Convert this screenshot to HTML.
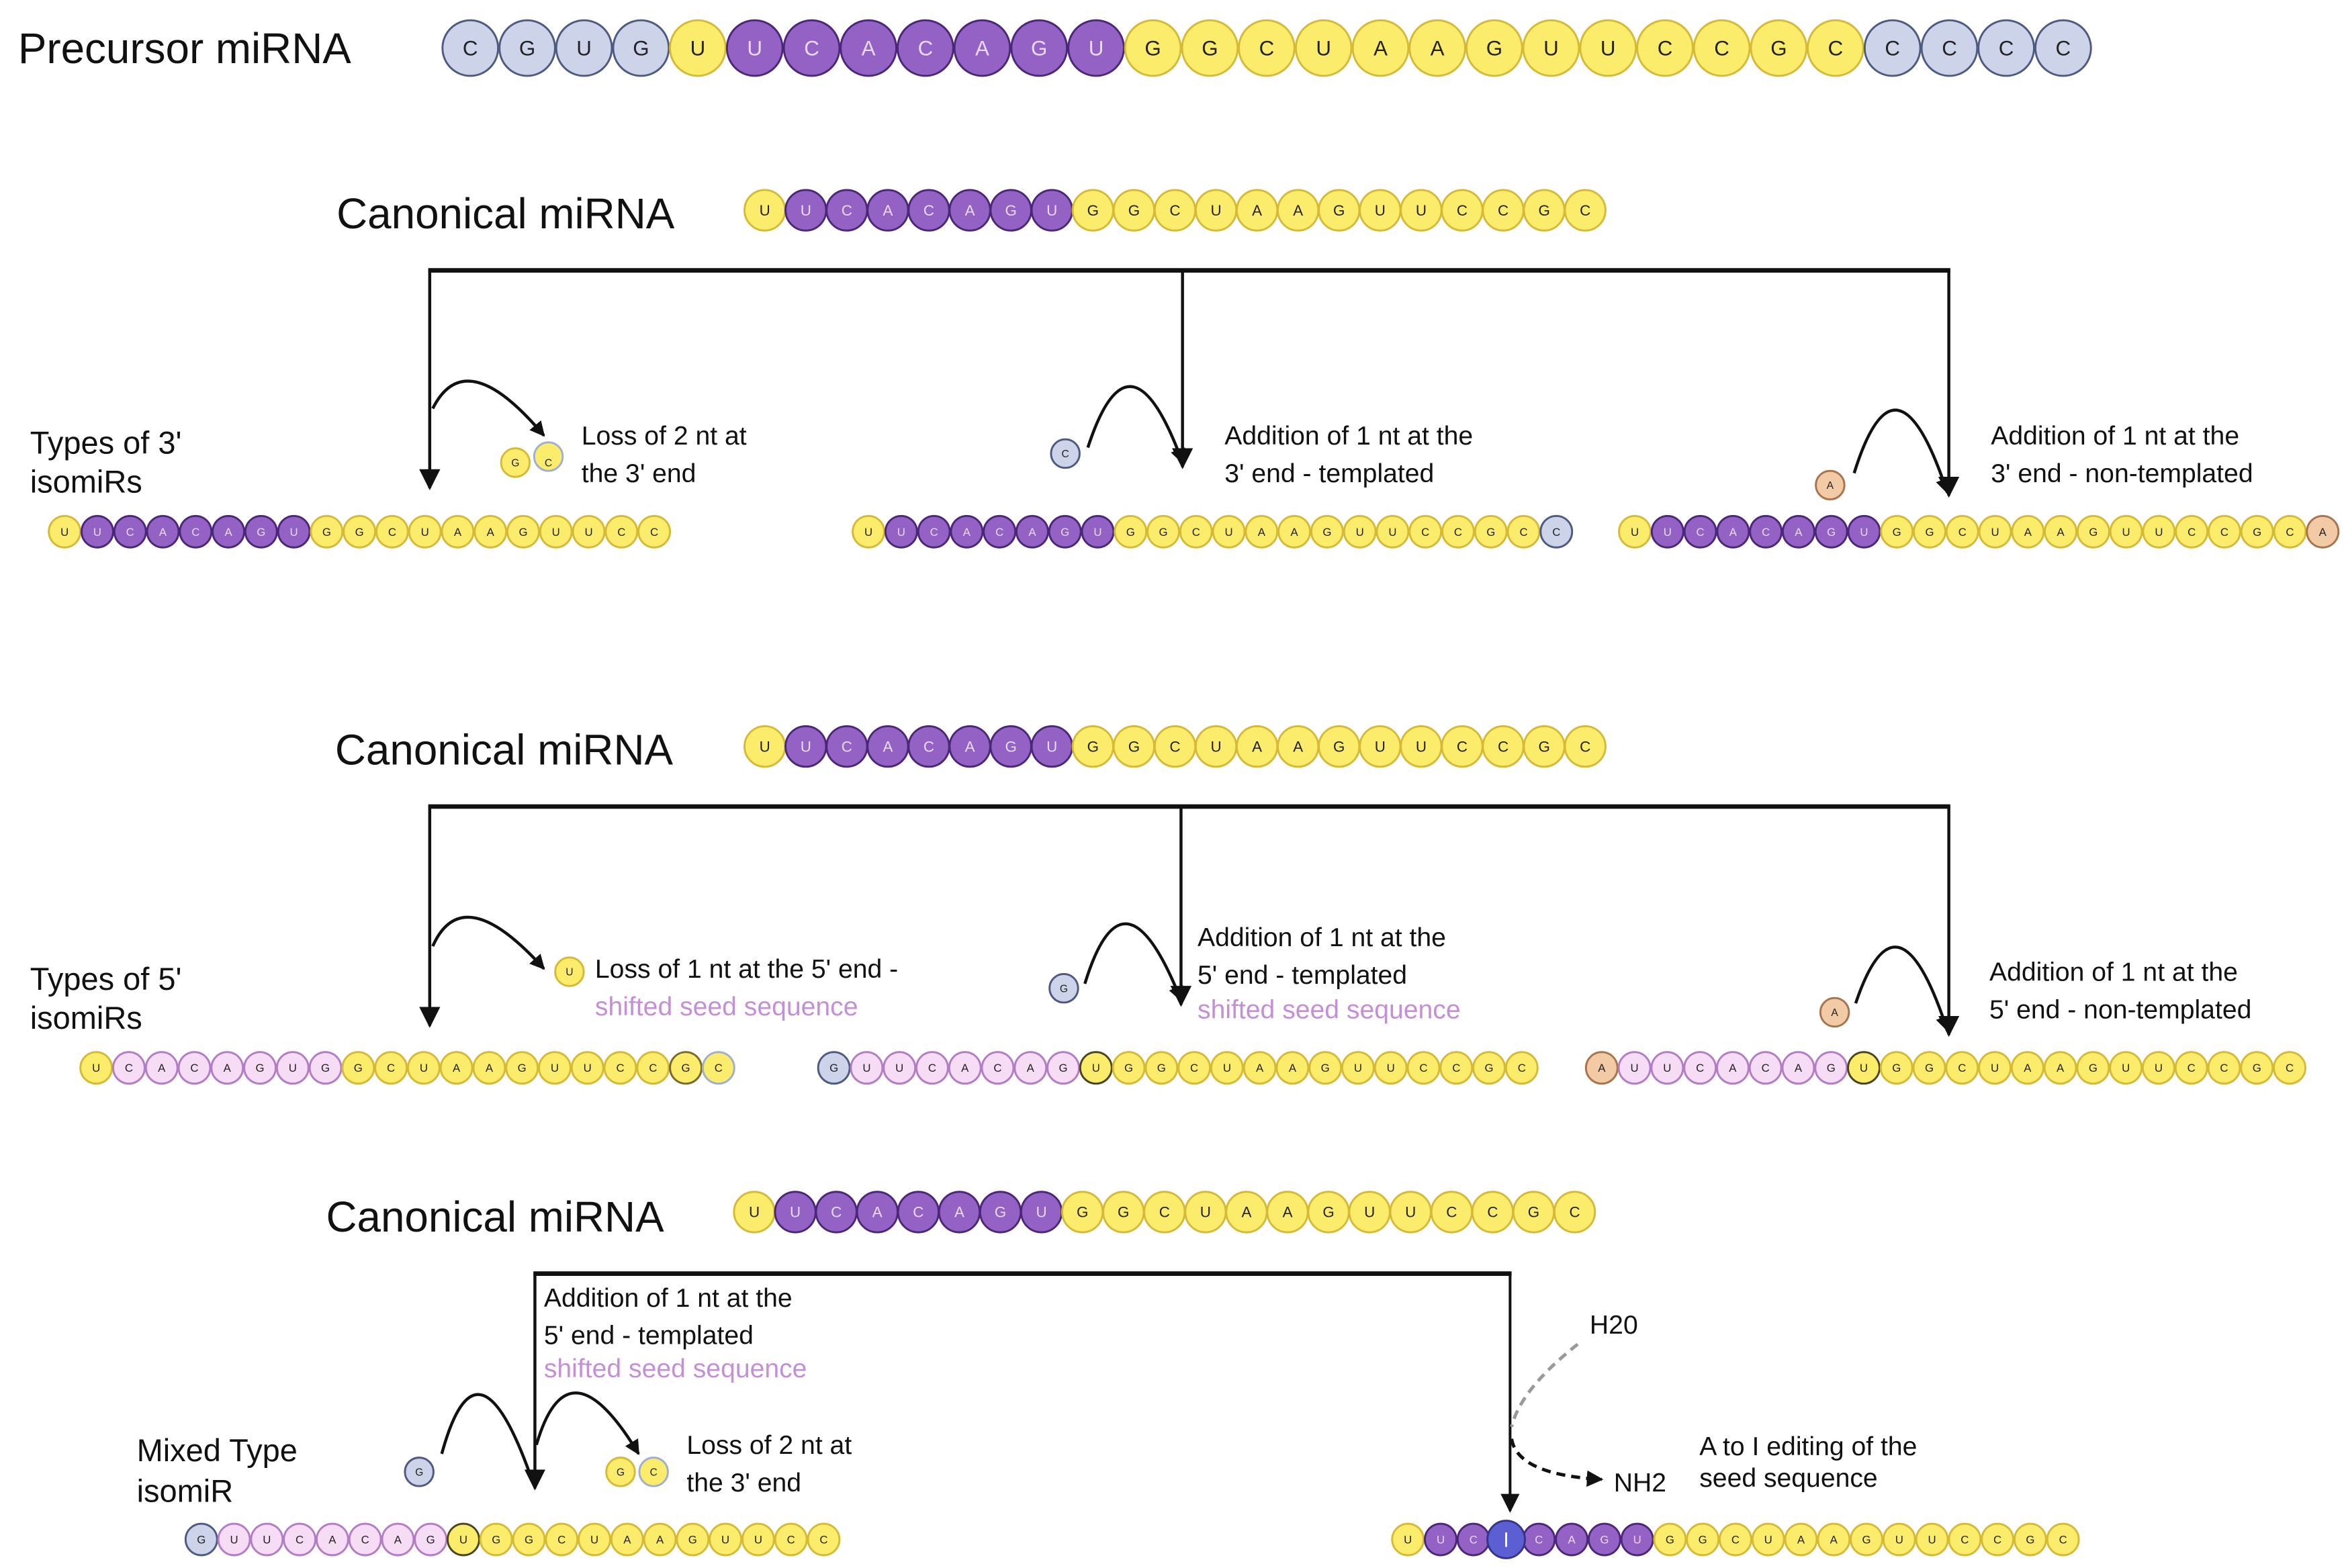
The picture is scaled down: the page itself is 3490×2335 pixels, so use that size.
<!DOCTYPE html>
<html><head><meta charset="utf-8"><style>
html,body{margin:0;padding:0;background:#fff}
svg{display:block}
.y{fill:#fbec6c;stroke:#d6b935;stroke-width:1.3}
.p{fill:#9461c5;stroke:#4b2778;stroke-width:1.3}
.g{fill:#cdd4e9;stroke:#4d5a82;stroke-width:1.3}
.k{fill:#f6dcf5;stroke:#b27cc6;stroke-width:1.3}
.t{fill:#f2caa6;stroke:#a8744e;stroke-width:1.3}
.o{fill:#fbec6c;stroke:#4a4420;stroke-width:1.3}
.i{fill:#5c5fd2;stroke:#33358a;stroke-width:1.3}
text{font-family:"Liberation Sans",Arial,sans-serif}
.L{fill:#222;text-anchor:middle}
.W{fill:#e8dcf5;text-anchor:middle}
.lab{fill:#111;font-size:17.5px}
.pink{fill:#c58fd8;font-size:17.5px}
.ttl{fill:#111;font-size:28.5px}
.sub{fill:#111;font-size:21px}
.ln{stroke:#111;fill:none}
</style></head><body>
<svg width="3490" height="2335" viewBox="0 0 1560 1044" preserveAspectRatio="none" xmlns="http://www.w3.org/2000/svg">
<defs>
<marker id="a" viewBox="0 0 10 10" refX="9" refY="5" markerWidth="5" markerHeight="5" orient="auto" markerUnits="strokeWidth"><path d="M0,0L10,5L0,10z" fill="#111"/></marker>
<marker id="b" viewBox="0 0 10 10" refX="9" refY="5" markerWidth="7" markerHeight="7" orient="auto" markerUnits="strokeWidth"><path d="M0,0L10,5L0,10z" fill="#111"/></marker>
</defs>

<!-- Precursor -->
<text class="ttl" x="12" y="42">Precursor miRNA</text>
<g>
<circle class="g" cx="313" cy="32" r="18.5"/><circle class="g" cx="350.9" cy="32" r="18.5"/><circle class="g" cx="388.7" cy="32" r="18.5"/><circle class="g" cx="426.6" cy="32" r="18.5"/>
<circle class="y" cx="464.4" cy="32" r="18.5"/>
<circle class="p" cx="502.3" cy="32" r="18.5"/><circle class="p" cx="540.2" cy="32" r="18.5"/><circle class="p" cx="578" cy="32" r="18.5"/><circle class="p" cx="615.9" cy="32" r="18.5"/><circle class="p" cx="653.7" cy="32" r="18.5"/><circle class="p" cx="691.6" cy="32" r="18.5"/><circle class="p" cx="729.5" cy="32" r="18.5"/>
<circle class="y" cx="767.3" cy="32" r="18.5"/><circle class="y" cx="805.2" cy="32" r="18.5"/><circle class="y" cx="843" cy="32" r="18.5"/><circle class="y" cx="880.9" cy="32" r="18.5"/><circle class="y" cx="918.8" cy="32" r="18.5"/><circle class="y" cx="956.6" cy="32" r="18.5"/><circle class="y" cx="994.5" cy="32" r="18.5"/><circle class="y" cx="1032.3" cy="32" r="18.5"/><circle class="y" cx="1070.2" cy="32" r="18.5"/><circle class="y" cx="1108.1" cy="32" r="18.5"/><circle class="y" cx="1145.9" cy="32" r="18.5"/><circle class="y" cx="1183.8" cy="32" r="18.5"/><circle class="y" cx="1221.6" cy="32" r="18.5"/>
<circle class="g" cx="1259.5" cy="32" r="18.5"/><circle class="g" cx="1297.4" cy="32" r="18.5"/><circle class="g" cx="1335.2" cy="32" r="18.5"/><circle class="g" cx="1373.1" cy="32" r="18.5"/>
</g>
<text class="L" font-size="14" y="37" x="313 350.9 388.7 426.6 464.4">CGUGU</text>
<text class="W" font-size="14" y="37" x="502.3 540.2 578 615.9 653.7 691.6 729.5">UCACAGU</text>
<text class="L" font-size="14" y="37" x="767.3 805.2 843 880.9 918.8 956.6 994.5 1032.3 1070.2 1108.1 1145.9 1183.8 1221.6 1259.5 1297.4 1335.2 1373.1">GGCUAAGUUCCGCCCCC</text>

<!-- Canonical 1 -->
<text class="ttl" x="224" y="152">Canonical miRNA</text>
<g>
<circle class="y" cx="509" cy="140" r="13.5"/>
<circle class="p" cx="536.3" cy="140" r="13.5"/><circle class="p" cx="563.6" cy="140" r="13.5"/><circle class="p" cx="590.9" cy="140" r="13.5"/><circle class="p" cx="618.2" cy="140" r="13.5"/><circle class="p" cx="645.5" cy="140" r="13.5"/><circle class="p" cx="672.8" cy="140" r="13.5"/><circle class="p" cx="700.1" cy="140" r="13.5"/>
<circle class="y" cx="727.4" cy="140" r="13.5"/><circle class="y" cx="754.7" cy="140" r="13.5"/><circle class="y" cx="782" cy="140" r="13.5"/><circle class="y" cx="809.3" cy="140" r="13.5"/><circle class="y" cx="836.6" cy="140" r="13.5"/><circle class="y" cx="863.9" cy="140" r="13.5"/><circle class="y" cx="891.2" cy="140" r="13.5"/><circle class="y" cx="918.5" cy="140" r="13.5"/><circle class="y" cx="945.8" cy="140" r="13.5"/><circle class="y" cx="973.1" cy="140" r="13.5"/><circle class="y" cx="1000.4" cy="140" r="13.5"/><circle class="y" cx="1027.7" cy="140" r="13.5"/><circle class="y" cx="1055" cy="140" r="13.5"/>
</g>
<text class="L" font-size="10" y="143.5" x="509">U</text>
<text class="W" font-size="10" y="143.5" x="536.3 563.6 590.9 618.2 645.5 672.8 700.1">UCACAGU</text>
<text class="L" font-size="10" y="143.5" x="727.4 754.7 782 809.3 836.6 863.9 891.2 918.5 945.8 973.1 1000.4 1027.7 1055">GGCUAAGUUCCGC</text>

<!-- Bracket 1 -->
<line class="ln" x1="285" y1="180" x2="1298" y2="180" stroke-width="3"/>
<line class="ln" x1="286" y1="180" x2="286" y2="325" stroke-width="2" marker-end="url(#b)"/>
<line class="ln" x1="787" y1="180" x2="787" y2="311" stroke-width="2" marker-end="url(#b)"/>
<line class="ln" x1="1297" y1="180" x2="1297" y2="330" stroke-width="2" marker-end="url(#b)"/>

<text class="sub" x="20" y="302">Types of 3'</text>
<text class="sub" x="20" y="328">isomiRs</text>

<path class="ln" d="M288,272 Q310,228 362,290" stroke-width="2" marker-end="url(#a)"/>
<circle class="y" cx="343" cy="308" r="9.5"/><circle class="y" cx="365" cy="304" r="9.5" style="stroke:#9fb0cf"/>
<text class="L" font-size="7" y="310.5" x="343 365">GC</text>
<text class="lab" x="387" y="296">Loss of 2 nt at</text>
<text class="lab" x="387" y="321">the 3' end</text>

<path class="ln" d="M724,298 Q752,212 787,308" stroke-width="2" marker-end="url(#a)"/>
<circle class="g" cx="709" cy="302" r="9.5"/>
<text class="L" font-size="7" y="304.5" x="709">C</text>
<text class="lab" x="815" y="296">Addition of 1 nt at the</text>
<text class="lab" x="815" y="321">3' end - templated</text>

<path class="ln" d="M1234,315 Q1262,225 1296,328" stroke-width="2" marker-end="url(#a)"/>
<circle class="t" cx="1218" cy="323" r="9.5"/>
<text class="L" font-size="7" y="325.5" x="1218">A</text>
<text class="lab" x="1325" y="296">Addition of 1 nt at the</text>
<text class="lab" x="1325" y="321">3' end - non-templated</text>

<!-- 3' rows -->
<g>
<circle class="y" cx="43" cy="354" r="10.5"/>
<circle class="p" cx="64.8" cy="354" r="10.5"/><circle class="p" cx="86.6" cy="354" r="10.5"/><circle class="p" cx="108.4" cy="354" r="10.5"/><circle class="p" cx="130.2" cy="354" r="10.5"/><circle class="p" cx="152" cy="354" r="10.5"/><circle class="p" cx="173.8" cy="354" r="10.5"/><circle class="p" cx="195.6" cy="354" r="10.5"/>
<circle class="y" cx="217.4" cy="354" r="10.5"/><circle class="y" cx="239.2" cy="354" r="10.5"/><circle class="y" cx="261" cy="354" r="10.5"/><circle class="y" cx="282.8" cy="354" r="10.5"/><circle class="y" cx="304.6" cy="354" r="10.5"/><circle class="y" cx="326.4" cy="354" r="10.5"/><circle class="y" cx="348.2" cy="354" r="10.5"/><circle class="y" cx="370" cy="354" r="10.5"/><circle class="y" cx="391.8" cy="354" r="10.5"/><circle class="y" cx="413.6" cy="354" r="10.5"/><circle class="y" cx="435.4" cy="354" r="10.5"/>
</g>
<text class="L" font-size="7.5" y="356.7" x="43">U</text>
<text class="W" font-size="7.5" y="356.7" x="64.8 86.6 108.4 130.2 152 173.8 195.6">UCACAGU</text>
<text class="L" font-size="7.5" y="356.7" x="217.4 239.2 261 282.8 304.6 326.4 348.2 370 391.8 413.6 435.4">GGCUAAGUUCC</text>

<g>
<circle class="y" cx="578" cy="354" r="10.5"/>
<circle class="p" cx="599.8" cy="354" r="10.5"/><circle class="p" cx="621.6" cy="354" r="10.5"/><circle class="p" cx="643.4" cy="354" r="10.5"/><circle class="p" cx="665.2" cy="354" r="10.5"/><circle class="p" cx="687" cy="354" r="10.5"/><circle class="p" cx="708.8" cy="354" r="10.5"/><circle class="p" cx="730.6" cy="354" r="10.5"/>
<circle class="y" cx="752.4" cy="354" r="10.5"/><circle class="y" cx="774.2" cy="354" r="10.5"/><circle class="y" cx="796" cy="354" r="10.5"/><circle class="y" cx="817.8" cy="354" r="10.5"/><circle class="y" cx="839.6" cy="354" r="10.5"/><circle class="y" cx="861.4" cy="354" r="10.5"/><circle class="y" cx="883.2" cy="354" r="10.5"/><circle class="y" cx="905" cy="354" r="10.5"/><circle class="y" cx="926.8" cy="354" r="10.5"/><circle class="y" cx="948.6" cy="354" r="10.5"/><circle class="y" cx="970.4" cy="354" r="10.5"/><circle class="y" cx="992.2" cy="354" r="10.5"/><circle class="y" cx="1014" cy="354" r="10.5"/>
<circle class="g" cx="1035.8" cy="354" r="10.5"/>
</g>
<text class="L" font-size="7.5" y="356.7" x="578">U</text>
<text class="W" font-size="7.5" y="356.7" x="599.8 621.6 643.4 665.2 687 708.8 730.6">UCACAGU</text>
<text class="L" font-size="7.5" y="356.7" x="752.4 774.2 796 817.8 839.6 861.4 883.2 905 926.8 948.6 970.4 992.2 1014 1035.8">GGCUAAGUUCCGCC</text>

<g>
<circle class="y" cx="1088" cy="354" r="10.5"/>
<circle class="p" cx="1109.8" cy="354" r="10.5"/><circle class="p" cx="1131.6" cy="354" r="10.5"/><circle class="p" cx="1153.4" cy="354" r="10.5"/><circle class="p" cx="1175.2" cy="354" r="10.5"/><circle class="p" cx="1197" cy="354" r="10.5"/><circle class="p" cx="1218.8" cy="354" r="10.5"/><circle class="p" cx="1240.6" cy="354" r="10.5"/>
<circle class="y" cx="1262.4" cy="354" r="10.5"/><circle class="y" cx="1284.2" cy="354" r="10.5"/><circle class="y" cx="1306" cy="354" r="10.5"/><circle class="y" cx="1327.8" cy="354" r="10.5"/><circle class="y" cx="1349.6" cy="354" r="10.5"/><circle class="y" cx="1371.4" cy="354" r="10.5"/><circle class="y" cx="1393.2" cy="354" r="10.5"/><circle class="y" cx="1415" cy="354" r="10.5"/><circle class="y" cx="1436.8" cy="354" r="10.5"/><circle class="y" cx="1458.6" cy="354" r="10.5"/><circle class="y" cx="1480.4" cy="354" r="10.5"/><circle class="y" cx="1502.2" cy="354" r="10.5"/><circle class="y" cx="1524" cy="354" r="10.5"/>
<circle class="t" cx="1545.8" cy="354" r="10.5"/>
</g>
<text class="L" font-size="7.5" y="356.7" x="1088">U</text>
<text class="W" font-size="7.5" y="356.7" x="1109.8 1131.6 1153.4 1175.2 1197 1218.8 1240.6">UCACAGU</text>
<text class="L" font-size="7.5" y="356.7" x="1262.4 1284.2 1306 1327.8 1349.6 1371.4 1393.2 1415 1436.8 1458.6 1480.4 1502.2 1524 1545.8">GGCUAAGUUCCGCA</text>

<!-- Canonical 2 -->
<text class="ttl" x="223" y="509">Canonical miRNA</text>
<g>
<circle class="y" cx="509" cy="497" r="13.5"/>
<circle class="p" cx="536.3" cy="497" r="13.5"/><circle class="p" cx="563.6" cy="497" r="13.5"/><circle class="p" cx="590.9" cy="497" r="13.5"/><circle class="p" cx="618.2" cy="497" r="13.5"/><circle class="p" cx="645.5" cy="497" r="13.5"/><circle class="p" cx="672.8" cy="497" r="13.5"/><circle class="p" cx="700.1" cy="497" r="13.5"/>
<circle class="y" cx="727.4" cy="497" r="13.5"/><circle class="y" cx="754.7" cy="497" r="13.5"/><circle class="y" cx="782" cy="497" r="13.5"/><circle class="y" cx="809.3" cy="497" r="13.5"/><circle class="y" cx="836.6" cy="497" r="13.5"/><circle class="y" cx="863.9" cy="497" r="13.5"/><circle class="y" cx="891.2" cy="497" r="13.5"/><circle class="y" cx="918.5" cy="497" r="13.5"/><circle class="y" cx="945.8" cy="497" r="13.5"/><circle class="y" cx="973.1" cy="497" r="13.5"/><circle class="y" cx="1000.4" cy="497" r="13.5"/><circle class="y" cx="1027.7" cy="497" r="13.5"/><circle class="y" cx="1055" cy="497" r="13.5"/>
</g>
<text class="L" font-size="10" y="500.5" x="509">U</text>
<text class="W" font-size="10" y="500.5" x="536.3 563.6 590.9 618.2 645.5 672.8 700.1">UCACAGU</text>
<text class="L" font-size="10" y="500.5" x="727.4 754.7 782 809.3 836.6 863.9 891.2 918.5 945.8 973.1 1000.4 1027.7 1055">GGCUAAGUUCCGC</text>

<line class="ln" x1="285" y1="537" x2="1298" y2="537" stroke-width="3"/>
<line class="ln" x1="286" y1="537" x2="286" y2="683" stroke-width="2" marker-end="url(#b)"/>
<line class="ln" x1="786" y1="537" x2="786" y2="669" stroke-width="2" marker-end="url(#b)"/>
<line class="ln" x1="1297" y1="537" x2="1297" y2="689" stroke-width="2" marker-end="url(#b)"/>

<text class="sub" x="20" y="659">Types of 5'</text>
<text class="sub" x="20" y="685">isomiRs</text>

<path class="ln" d="M288,630 Q308,585 362,645" stroke-width="2" marker-end="url(#a)"/>
<circle class="y" cx="379" cy="647" r="9.5"/>
<text class="L" font-size="7" y="649.5" x="379">U</text>
<text class="lab" x="396" y="651">Loss of 1 nt at the 5' end -</text>
<text class="pink" x="396" y="676">shifted seed sequence</text>

<path class="ln" d="M722,655 Q748,570 786,666" stroke-width="2" marker-end="url(#a)"/>
<circle class="g" cx="708" cy="658" r="9.5"/>
<text class="L" font-size="7" y="660.5" x="708">G</text>
<text class="lab" x="797" y="630">Addition of 1 nt at the</text>
<text class="lab" x="797" y="655">5' end - templated</text>
<text class="pink" x="797" y="678">shifted seed sequence</text>

<path class="ln" d="M1235,668 Q1263,585 1296,686" stroke-width="2" marker-end="url(#a)"/>
<circle class="t" cx="1221" cy="674" r="9.5"/>
<text class="L" font-size="7" y="676.5" x="1221">A</text>
<text class="lab" x="1324" y="653">Addition of 1 nt at the</text>
<text class="lab" x="1324" y="678">5' end - non-templated</text>

<!-- 5' rows -->
<g>
<circle class="y" cx="64" cy="711" r="10.5"/>
<circle class="k" cx="85.8" cy="711" r="10.5"/><circle class="k" cx="107.6" cy="711" r="10.5"/><circle class="k" cx="129.4" cy="711" r="10.5"/><circle class="k" cx="151.2" cy="711" r="10.5"/><circle class="k" cx="173" cy="711" r="10.5"/><circle class="k" cx="194.8" cy="711" r="10.5"/><circle class="k" cx="216.6" cy="711" r="10.5"/>
<circle class="y" cx="238.4" cy="711" r="10.5"/><circle class="y" cx="260.2" cy="711" r="10.5"/><circle class="y" cx="282" cy="711" r="10.5"/><circle class="y" cx="303.8" cy="711" r="10.5"/><circle class="y" cx="325.6" cy="711" r="10.5"/><circle class="y" cx="347.4" cy="711" r="10.5"/><circle class="y" cx="369.2" cy="711" r="10.5"/><circle class="y" cx="391" cy="711" r="10.5"/><circle class="y" cx="412.8" cy="711" r="10.5"/><circle class="y" cx="434.6" cy="711" r="10.5"/><circle class="y" cx="456.4" cy="711" r="10.5" style="stroke:#7a6a28"/><circle class="y" cx="478.2" cy="711" r="10.5" style="stroke:#9fb0cf"/>
</g>
<text class="L" font-size="7.5" y="713.7" x="64 85.8 107.6 129.4 151.2 173 194.8 216.6 238.4 260.2 282 303.8 325.6 347.4 369.2 391 412.8 434.6 456.4 478.2">UCACAGUGGCUAAGUUCCGC</text>

<g>
<circle class="g" cx="555" cy="711" r="10.5"/>
<circle class="k" cx="576.8" cy="711" r="10.5"/><circle class="k" cx="598.6" cy="711" r="10.5"/><circle class="k" cx="620.4" cy="711" r="10.5"/><circle class="k" cx="642.2" cy="711" r="10.5"/><circle class="k" cx="664" cy="711" r="10.5"/><circle class="k" cx="685.8" cy="711" r="10.5"/><circle class="k" cx="707.6" cy="711" r="10.5"/>
<circle class="o" cx="729.4" cy="711" r="10.5"/>
<circle class="y" cx="751.2" cy="711" r="10.5"/><circle class="y" cx="773" cy="711" r="10.5"/><circle class="y" cx="794.8" cy="711" r="10.5"/><circle class="y" cx="816.6" cy="711" r="10.5"/><circle class="y" cx="838.4" cy="711" r="10.5"/><circle class="y" cx="860.2" cy="711" r="10.5"/><circle class="y" cx="882" cy="711" r="10.5"/><circle class="y" cx="903.8" cy="711" r="10.5"/><circle class="y" cx="925.6" cy="711" r="10.5"/><circle class="y" cx="947.4" cy="711" r="10.5"/><circle class="y" cx="969.2" cy="711" r="10.5"/><circle class="y" cx="991" cy="711" r="10.5"/><circle class="y" cx="1012.8" cy="711" r="10.5"/>
</g>
<text class="L" font-size="7.5" y="713.7" x="555 576.8 598.6 620.4 642.2 664 685.8 707.6 729.4 751.2 773 794.8 816.6 838.4 860.2 882 903.8 925.6 947.4 969.2 991 1012.8">GUUCACAGUGGCUAAGUUCCGC</text>

<g>
<circle class="t" cx="1066" cy="711" r="10.5"/>
<circle class="k" cx="1087.8" cy="711" r="10.5"/><circle class="k" cx="1109.6" cy="711" r="10.5"/><circle class="k" cx="1131.4" cy="711" r="10.5"/><circle class="k" cx="1153.2" cy="711" r="10.5"/><circle class="k" cx="1175" cy="711" r="10.5"/><circle class="k" cx="1196.8" cy="711" r="10.5"/><circle class="k" cx="1218.6" cy="711" r="10.5"/>
<circle class="o" cx="1240.4" cy="711" r="10.5"/>
<circle class="y" cx="1262.2" cy="711" r="10.5"/><circle class="y" cx="1284" cy="711" r="10.5"/><circle class="y" cx="1305.8" cy="711" r="10.5"/><circle class="y" cx="1327.6" cy="711" r="10.5"/><circle class="y" cx="1349.4" cy="711" r="10.5"/><circle class="y" cx="1371.2" cy="711" r="10.5"/><circle class="y" cx="1393" cy="711" r="10.5"/><circle class="y" cx="1414.8" cy="711" r="10.5"/><circle class="y" cx="1436.6" cy="711" r="10.5"/><circle class="y" cx="1458.4" cy="711" r="10.5"/><circle class="y" cx="1480.2" cy="711" r="10.5"/><circle class="y" cx="1502" cy="711" r="10.5"/><circle class="y" cx="1523.8" cy="711" r="10.5"/>
</g>
<text class="L" font-size="7.5" y="713.7" x="1066 1087.8 1109.6 1131.4 1153.2 1175 1196.8 1218.6 1240.4 1262.2 1284 1305.8 1327.6 1349.4 1371.2 1393 1414.8 1436.6 1458.4 1480.2 1502 1523.8">AUUCACAGUGGCUAAGUUCCGC</text>

<!-- Canonical 3 -->
<text class="ttl" x="217" y="820">Canonical miRNA</text>
<g>
<circle class="y" cx="502" cy="807" r="13.5"/>
<circle class="p" cx="529.3" cy="807" r="13.5"/><circle class="p" cx="556.6" cy="807" r="13.5"/><circle class="p" cx="583.9" cy="807" r="13.5"/><circle class="p" cx="611.2" cy="807" r="13.5"/><circle class="p" cx="638.5" cy="807" r="13.5"/><circle class="p" cx="665.8" cy="807" r="13.5"/><circle class="p" cx="693.1" cy="807" r="13.5"/>
<circle class="y" cx="720.4" cy="807" r="13.5"/><circle class="y" cx="747.7" cy="807" r="13.5"/><circle class="y" cx="775" cy="807" r="13.5"/><circle class="y" cx="802.3" cy="807" r="13.5"/><circle class="y" cx="829.6" cy="807" r="13.5"/><circle class="y" cx="856.9" cy="807" r="13.5"/><circle class="y" cx="884.2" cy="807" r="13.5"/><circle class="y" cx="911.5" cy="807" r="13.5"/><circle class="y" cx="938.8" cy="807" r="13.5"/><circle class="y" cx="966.1" cy="807" r="13.5"/><circle class="y" cx="993.4" cy="807" r="13.5"/><circle class="y" cx="1020.7" cy="807" r="13.5"/><circle class="y" cx="1048" cy="807" r="13.5"/>
</g>
<text class="L" font-size="10" y="810.5" x="502">U</text>
<text class="W" font-size="10" y="810.5" x="529.3 556.6 583.9 611.2 638.5 665.8 693.1">UCACAGU</text>
<text class="L" font-size="10" y="810.5" x="720.4 747.7 775 802.3 829.6 856.9 884.2 911.5 938.8 966.1 993.4 1020.7 1048">GGCUAAGUUCCGC</text>

<line class="ln" x1="355" y1="848" x2="1006" y2="848" stroke-width="3"/>
<line class="ln" x1="356" y1="848" x2="356" y2="991" stroke-width="2" marker-end="url(#b)"/>
<line class="ln" x1="1005" y1="848" x2="1005" y2="1006" stroke-width="1.8" marker-end="url(#b)"/>

<text class="lab" x="362" y="870">Addition of 1 nt at the</text>
<text class="lab" x="362" y="895">5' end - templated</text>
<text class="pink" x="362" y="917">shifted seed sequence</text>

<text class="sub" x="91" y="973">Mixed Type</text>
<text class="sub" x="91" y="1000">isomiR</text>

<path class="ln" d="M294,968 Q318,880 355,988" stroke-width="2"/>
<path class="ln" d="M357,962 Q378,890 425,968" stroke-width="2" marker-end="url(#a)"/>
<circle class="g" cx="279" cy="980" r="9.5"/>
<text class="L" font-size="7" y="982.5" x="279">G</text>
<circle class="y" cx="413" cy="980" r="9.5"/><circle class="y" cx="435" cy="980" r="9.5" style="stroke:#9fb0cf"/>
<text class="L" font-size="7" y="982.5" x="413 435">GC</text>
<text class="lab" x="457" y="968">Loss of 2 nt at</text>
<text class="lab" x="457" y="993">the 3' end</text>

<path d="M1050,895 Q1012,925 1006,950" fill="none" stroke="#999" stroke-width="2.2" stroke-dasharray="6,4"/>
<path d="M1006,958 Q1010,982 1066,985" fill="none" stroke="#111" stroke-width="2.2" stroke-dasharray="6,4" marker-end="url(#a)"/>
<text class="lab" x="1058" y="888">H20</text>
<text class="lab" x="1074" y="993">NH2</text>
<text class="lab" x="1131" y="969">A to I editing of the</text>
<text class="lab" x="1131" y="990">seed sequence</text>

<!-- Mixed row -->
<g>
<circle class="g" cx="134" cy="1025" r="10.5"/>
<circle class="k" cx="155.8" cy="1025" r="10.5"/><circle class="k" cx="177.6" cy="1025" r="10.5"/><circle class="k" cx="199.4" cy="1025" r="10.5"/><circle class="k" cx="221.2" cy="1025" r="10.5"/><circle class="k" cx="243" cy="1025" r="10.5"/><circle class="k" cx="264.8" cy="1025" r="10.5"/><circle class="k" cx="286.6" cy="1025" r="10.5"/>
<circle class="o" cx="308.4" cy="1025" r="10.5"/>
<circle class="y" cx="330.2" cy="1025" r="10.5"/><circle class="y" cx="352" cy="1025" r="10.5"/><circle class="y" cx="373.8" cy="1025" r="10.5"/><circle class="y" cx="395.6" cy="1025" r="10.5"/><circle class="y" cx="417.4" cy="1025" r="10.5"/><circle class="y" cx="439.2" cy="1025" r="10.5"/><circle class="y" cx="461" cy="1025" r="10.5"/><circle class="y" cx="482.8" cy="1025" r="10.5"/><circle class="y" cx="504.6" cy="1025" r="10.5"/><circle class="y" cx="526.4" cy="1025" r="10.5"/><circle class="y" cx="548.2" cy="1025" r="10.5"/>
</g>
<text class="L" font-size="7.5" y="1027.7" x="134 155.8 177.6 199.4 221.2 243 264.8 286.6 308.4 330.2 352 373.8 395.6 417.4 439.2 461 482.8 504.6 526.4 548.2">GUUCACAGUGGCUAAGUUCC</text>

<!-- Edited row -->
<g>
<circle class="y" cx="937" cy="1025" r="10.5"/>
<circle class="p" cx="958.8" cy="1025" r="10.5"/><circle class="p" cx="980.6" cy="1025" r="10.5"/>
<circle class="p" cx="1024.2" cy="1025" r="10.5"/><circle class="p" cx="1046" cy="1025" r="10.5"/><circle class="p" cx="1067.8" cy="1025" r="10.5"/><circle class="p" cx="1089.6" cy="1025" r="10.5"/>
<circle class="i" cx="1002.4" cy="1025" r="12.5"/>
<circle class="y" cx="1111.4" cy="1025" r="10.5"/><circle class="y" cx="1133.2" cy="1025" r="10.5"/><circle class="y" cx="1155" cy="1025" r="10.5"/><circle class="y" cx="1176.8" cy="1025" r="10.5"/><circle class="y" cx="1198.6" cy="1025" r="10.5"/><circle class="y" cx="1220.4" cy="1025" r="10.5"/><circle class="y" cx="1242.2" cy="1025" r="10.5"/><circle class="y" cx="1264" cy="1025" r="10.5"/><circle class="y" cx="1285.8" cy="1025" r="10.5"/><circle class="y" cx="1307.6" cy="1025" r="10.5"/><circle class="y" cx="1329.4" cy="1025" r="10.5"/><circle class="y" cx="1351.2" cy="1025" r="10.5"/><circle class="y" cx="1373" cy="1025" r="10.5"/>
</g>
<text class="L" font-size="7.5" y="1027.7" x="937">U</text>
<text class="W" font-size="7.5" y="1027.7" x="958.8 980.6 1024.2 1046 1067.8 1089.6">UCCAGU</text>
<text class="W" font-size="14" y="1030" x="1002.4" style="fill:#fff">I</text>
<text class="L" font-size="7.5" y="1027.7" x="1111.4 1133.2 1155 1176.8 1198.6 1220.4 1242.2 1264 1285.8 1307.6 1329.4 1351.2 1373">GGCUAAGUUCCGC</text>
</svg>
</body></html>
